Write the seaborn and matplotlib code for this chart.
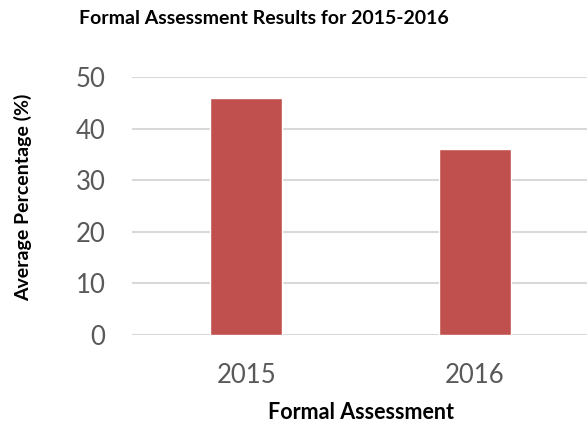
import matplotlib
matplotlib.use("Agg")
import matplotlib.pyplot as plt
import seaborn as sns
import pandas as pd

years = ["2015", "2016"]
avg_pct = [46, 36]
y_ticks = [0, 10, 20, 30, 40, 50]

sns.set_theme(style="white")
plt.rcParams['font.family'] = ['Lato', 'DejaVu Sans']

df = pd.DataFrame({"year": years, "pct": avg_pct})

fig = plt.figure(figsize=(5.87, 4.23), dpi=100)
W, H = 587, 423
ax = fig.add_axes([132 / W, 1 - 335 / H, (589 - 132) / W, (335 - 77) / H])

sns.barplot(data=df, x="year", y="pct", color="#C0504D", width=0.314,
            saturation=1, ax=ax, zorder=3)

ax.set_xlim(-0.5, 1.5)
ax.set_ylim(0, 50)
ax.set_yticks(y_ticks)
ax.yaxis.grid(True, color="#D9D9D9", linewidth=1.5, zorder=0)
ax.set_axisbelow(True)
for s in ax.spines.values():
    s.set_visible(False)
ax.tick_params(axis="both", length=0, labelsize=18.5, labelcolor="#595959")
ax.tick_params(axis="y", pad=19)
ax.tick_params(axis="x", pad=20)
ax.set_xlabel("")
ax.set_ylabel("")

fig.text(361 / W, 1 - 412 / H, "Formal Assessment", ha="center", va="center",
         fontsize=15.5, fontweight="bold", color="#000000")
fig.text(23 / W, 1 - 197 / H, "Average Percentage (%)", ha="center", va="center",
         rotation=90, fontsize=14, fontweight="bold", color="#000000")

fig.text(263.5 / W, 1 - 19 / H, "Formal Assessment Results for 2015-2016",
         ha="center", va="center", fontsize=14, fontweight="bold", color="#000000")

fig.savefig("out.png", dpi=100)
